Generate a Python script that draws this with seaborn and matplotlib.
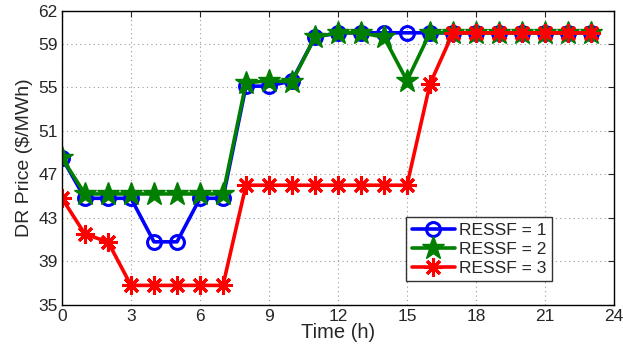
import numpy as np
import pandas as pd
import matplotlib
matplotlib.use("Agg")
import matplotlib.pyplot as plt
import seaborn as sns

hours = list(range(24))
ressf_1 = [48.5, 44.8, 44.8, 44.8, 40.8, 40.8, 44.8, 44.8, 55.1, 55.1, 55.6, 59.6,
           60.0, 60.0, 60.0, 60.0, 60.0, 60.0, 60.0, 60.0, 60.0, 60.0, 60.0, 60.0]
ressf_2 = [48.5, 45.2, 45.2, 45.2, 45.2, 45.2, 45.2, 45.2, 55.4, 55.6, 55.5, 59.6,
           60.0, 60.0, 59.6, 55.6, 60.0, 60.0, 60.0, 60.0, 60.0, 60.0, 60.0, 60.0]
ressf_3 = [44.8, 41.5, 40.8, 36.8, 36.8, 36.8, 36.8, 36.8, 46.0, 46.0, 46.0, 46.0,
           46.0, 46.0, 46.0, 46.0, 55.3, 60.0, 60.0, 60.0, 60.0, 60.0, 60.0, 60.0]
labels = ["RESSF = 1", "RESSF = 2", "RESSF = 3"]
y_ticks = [35, 39, 43, 47, 51, 55, 59, 62]
x_ticks = list(range(0, 25, 3))

sns.set_style("white")
plt.rcParams["font.family"] = ["Liberation Sans", "DejaVu Sans"]

fig = plt.figure(figsize=(6.23, 3.45), dpi=100)
ax = fig.add_axes([0.0995, 0.116, 0.886, 0.852])

styles = [
    dict(color="#0000ff", marker="o", markersize=10, markerfacecolor="none",
         markeredgecolor="#0000ff", markeredgewidth=2.2),
    dict(color="#007f00", marker="*", markersize=17, markerfacecolor="#007f00",
         markeredgecolor="#007f00", markeredgewidth=1.0),
    dict(color="#ff0000", marker=(8, 2, 0), markersize=13,
         markeredgecolor="#ff0000", markeredgewidth=2.2),
]
for vals, lab, st in zip([ressf_1, ressf_2, ressf_3], labels, styles):
    df = pd.DataFrame({"Time": hours, "Price": vals})
    sns.lineplot(data=df, x="Time", y="Price", ax=ax, label=lab,
                 linewidth=2.6, **st)

ax.set_xlim(0, 24)
ax.set_ylim(35, 62)
ax.set_xticks(x_ticks)
ax.set_yticks(y_ticks)
ax.grid(True, linestyle=(0, (1, 3)), color="#9a9a9a", linewidth=0.8)
ax.tick_params(direction="in", length=4, width=0.8, labelsize=12.5,
               top=True, right=True, pad=3)
for s in ax.spines.values():
    s.set_color("black")
    s.set_linewidth(1.0)

ax.set_xlabel("Time (h)", fontsize=14.5, labelpad=-1)
ax.set_ylabel("DR Price ($/MWh)", fontsize=14, labelpad=4)

leg = ax.legend(loc="lower right", bbox_to_anchor=(0.888, 0.082), fontsize=12.5,
                frameon=True, fancybox=False, handlelength=2.5,
                handletextpad=0.25, borderpad=0.3, labelspacing=0.22,
                borderaxespad=0)
leg.get_frame().set_edgecolor("black")
leg.get_frame().set_linewidth(1.0)

fig.savefig("out.png", dpi=100)
